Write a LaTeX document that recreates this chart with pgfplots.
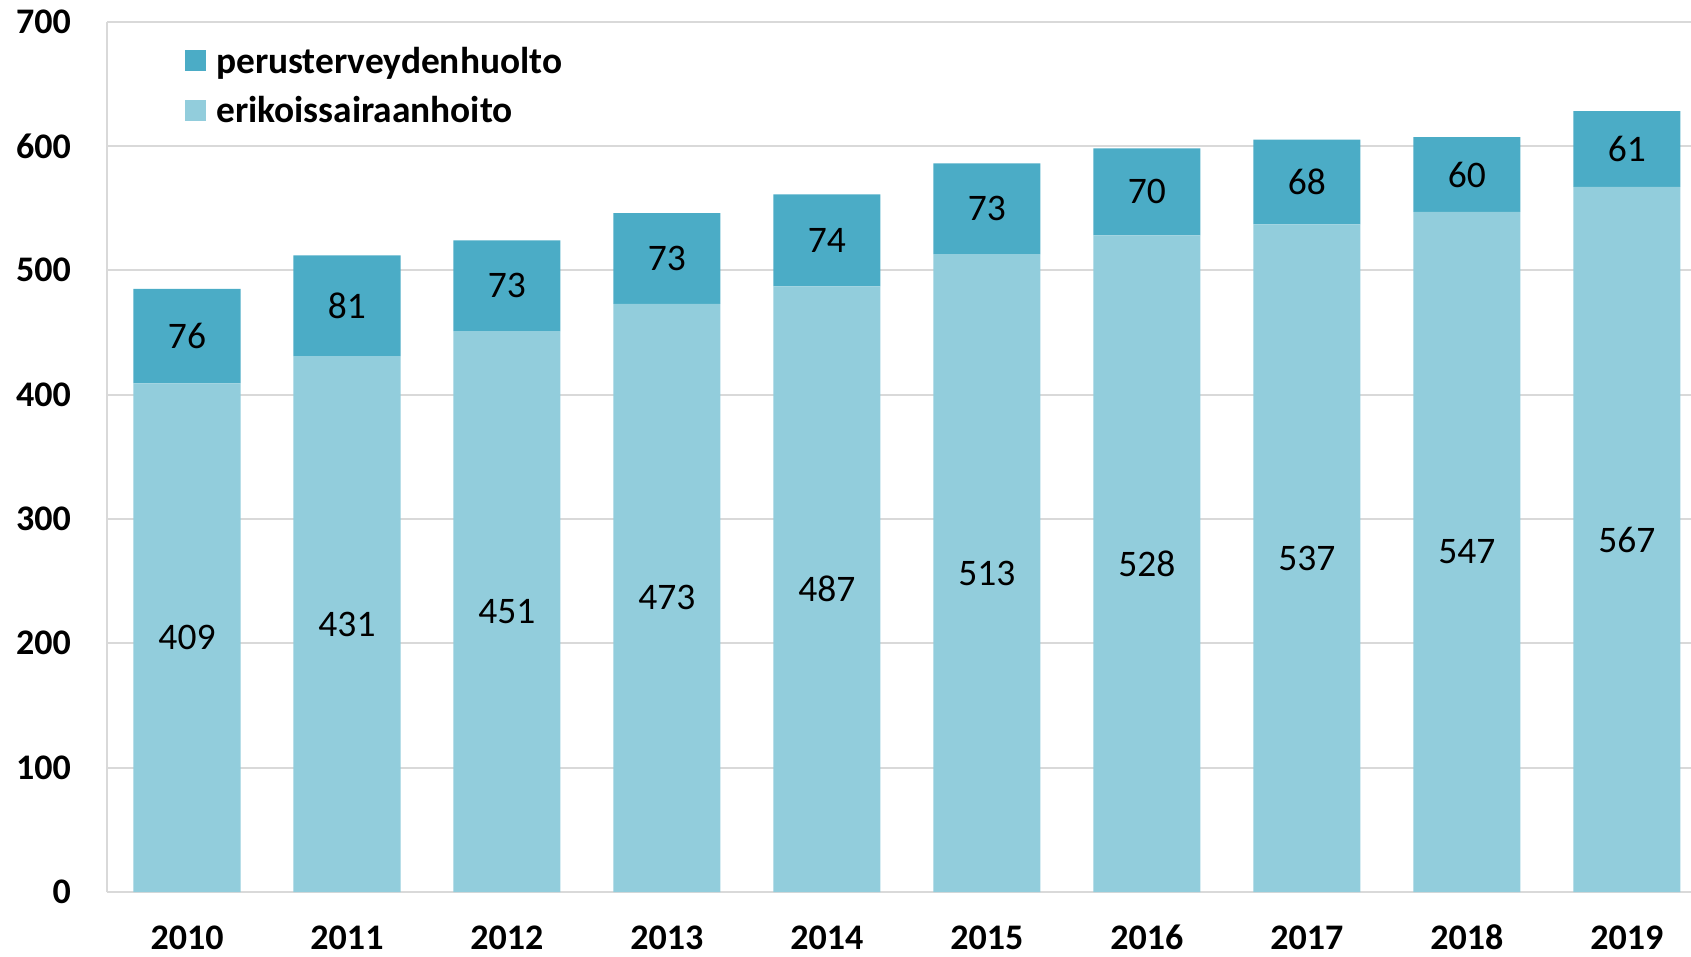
\documentclass[border=0pt]{standalone}
\usepackage{fontspec}
\setmainfont{Carlito}
\usepackage{pgfplots}
\pgfplotsset{compat=1.18}
\usepackage{pgfplotstable}
\definecolor{perus}{HTML}{4BACC6}
\definecolor{erik}{HTML}{92CDDC}
\definecolor{gridc}{HTML}{D9D9D9}

\pgfplotstableread{
x e p
0 409 76
1 431 81
2 451 73
3 473 73
4 487 74
5 513 73
6 528 70
7 537 68
8 547 60
9 567 61
}\datatable

\begin{document}
\begin{tikzpicture}[x=1pt,y=1pt]
\path[use as bounding box, clip] (0,0) rectangle (1691,956);
\begin{axis}[
  at={(107pt,64pt)}, anchor=south west,
  scale only axis, width=1584pt, height=870.4pt,
  xmin=-0.5, xmax=9.4, ymin=0, ymax=700,
  ybar stacked, bar width=0.669,
  xtick={0,...,9}, xticklabels={2010,2011,2012,2013,2014,2015,2016,2017,2018,2019},
  ytick={0,100,...,700},
  major tick length=0pt,
  axis x line*=bottom, axis y line*=left,
  axis line style={gridc, line width=2pt, -},
  ymajorgrids, grid style={gridc, line width=2pt},
  /pgf/number format/assume math mode=true,
  ticklabel style={font=\fontsize{36}{40}\selectfont\bfseries},
  yticklabel style={anchor=east, inner sep=0pt, xshift=-36pt},
  xticklabel style={anchor=base, inner sep=0pt, yshift=-57pt},
  legend style={at={(0.04924,0.9712)}, anchor=north west, draw=none, fill=none,
    inner sep=0pt, font=\fontsize{37.4}{42}\selectfont\bfseries, row sep=22pt,
    nodes={inner sep=0pt}},
  legend cell align=left,
  legend image code/.code={\fill[#1] (0pt,-10.5pt) rectangle (21pt,10.5pt);},
  /tikz/every odd column/.append style={column sep=10pt},
  reverse legend,
]
\addplot[fill=erik, draw=none] table[x=x, y=e] {\datatable};
\addlegendentry{erikoissairaanhoito}
\addplot[fill=perus, draw=none] table[x=x, y=p] {\datatable};
\addlegendentry{perusterveydenhuolto}
\end{axis}
\begin{axis}[
  at={(107pt,64pt)}, anchor=south west,
  scale only axis, width=1584pt, height=870.4pt,
  xmin=-0.5, xmax=9.4, ymin=0, ymax=700,
  hide axis, clip=false,
  /pgf/number format/assume math mode=true,
  nodes near coords,
  every node near coord/.append style={anchor=center, inner sep=0pt, font=\fontsize{37.5}{42}\selectfont, text=black},
]
\addplot[draw=none, mark=none, point meta=explicit] table[x=x, y expr=\thisrow{e}/2, meta=e] {\datatable};
\addplot[draw=none, mark=none, point meta=explicit] table[x=x, y expr=\thisrow{e}+\thisrow{p}/2, meta=p] {\datatable};
\end{axis}
\end{tikzpicture}
\end{document}
